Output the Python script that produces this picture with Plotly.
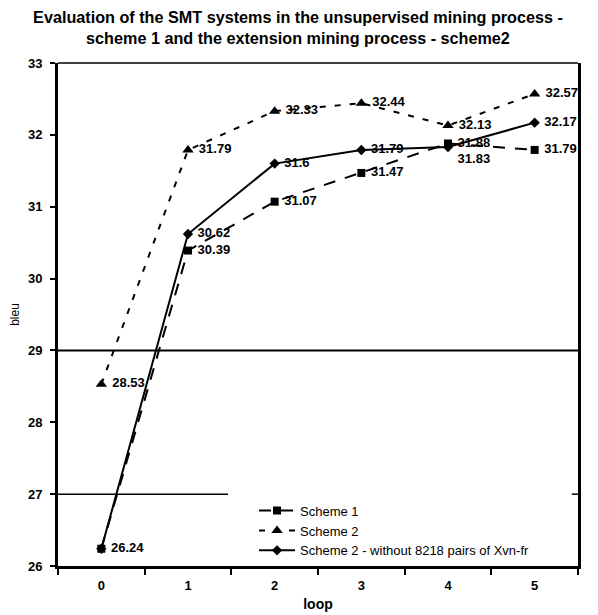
import plotly.graph_objects as go

loops = [0, 1, 2, 3, 4, 5]
scheme1 = [26.24, 30.39, 31.07, 31.47, 31.88, 31.79]
scheme2 = [28.53, 31.79, 32.33, 32.44, 32.13, 32.57]
scheme2_wo = [26.24, 30.62, 31.6, 31.79, 31.83, 32.17]

labels1 = ["26.24", "30.39", "31.07", "31.47", "31.88", "31.79"]
labels2 = ["28.53", "31.79", "32.33", "32.44", "32.13", "32.57"]
labels3 = ["", "30.62", "31.6", "31.79", "31.83", "32.17"]
pos3 = ["middle right"] * 4 + ["bottom right", "middle right"]

FONT = "Liberation Sans, Arial, sans-serif"
LBL = dict(family=FONT, size=13, color="black", weight="bold")

fig = go.Figure()
fig.add_trace(go.Scatter(
    x=loops, y=scheme1, name="Scheme 1", mode="lines+markers+text",
    line=dict(color="black", width=2, dash="12px,10px"),
    marker=dict(symbol="square", size=8, color="black"),
    text=[" " + t for t in labels1], textposition="middle right",
    textfont=LBL,
))
fig.add_trace(go.Scatter(
    x=loops, y=scheme2, name="Scheme 2", mode="lines+markers+text",
    line=dict(color="black", width=2, dash="6px,9px"),
    marker=dict(symbol="triangle-up", size=10, color="black"),
    text=[" " + t for t in labels2], textposition="middle right",
    textfont=LBL,
))
fig.add_trace(go.Scatter(
    x=loops, y=scheme2_wo, name="Scheme 2 - without 8218 pairs of Xvn-fr",
    mode="lines+markers+text",
    line=dict(color="black", width=2),
    marker=dict(symbol="diamond", size=8, color="black"),
    text=[(" " + t) if t else "" for t in labels3], textposition=pos3,
    textfont=LBL,
))

# gridlines at 29 (full) and 27 (partly hidden behind legend area)
fig.add_shape(type="line", xref="paper", yref="y", x0=0, x1=1, y0=29, y1=29,
              line=dict(color="black", width=2), layer="below")
fig.add_shape(type="line", xref="paper", yref="y", x0=0, x1=0.327, y0=27, y1=27,
              line=dict(color="black", width=1.5), layer="below")
fig.add_shape(type="line", xref="paper", yref="y", x0=0.988, x1=1, y0=27, y1=27,
              line=dict(color="black", width=1.5), layer="below")
# top border
fig.add_shape(type="line", xref="paper", yref="paper", x0=0, x1=1, y0=1, y1=1,
              line=dict(color="black", width=1.5))

fig.update_layout(
    width=590, height=607,
    margin=dict(l=50, r=20, t=55, b=49, autoexpand=False),
    paper_bgcolor="white", plot_bgcolor="white",
    font=dict(family=FONT, color="black"),
    title=dict(
        text="Evaluation of the SMT systems in the unsupervised mining process -<br>scheme 1 and the extension mining process - scheme2",
        x=0.4915, xanchor="center", y=0.975, yanchor="top", pad=dict(t=0, b=0),
        font=dict(family=FONT, size=16.2, color="black", weight="bold"),
    ),
    showlegend=True,
    legend=dict(
        x=0.377, y=0.14, xanchor="left", yanchor="top",
        bgcolor="white", borderwidth=0,
        font=dict(family=FONT, size=13, color="black"),
        tracegroupgap=0, itemwidth=36,
    ),
    xaxis=dict(
        range=[-0.5, 5.5], tickmode="array", tickvals=loops,
        ticktext=[str(v) for v in loops], ticks="", showgrid=False,
        showline=True, linecolor="black", linewidth=3, zeroline=False,
        ticklabelstandoff=5, automargin=False,
        tickfont=dict(family=FONT, size=13, weight="bold"),
        minor=dict(tickmode="array", tickvals=[-0.5, 0.5, 1.5, 2.5, 3.5, 4.5, 5.5],
                   ticks="outside", ticklen=6, tickwidth=2, tickcolor="black", showgrid=False),
        title=dict(text="loop", font=dict(family=FONT, size=14, weight="bold"), standoff=8),
    ),
    yaxis=dict(
        range=[26, 33], dtick=1, ticks="outside", ticklen=5, tickwidth=1.5,
        tickcolor="black", showgrid=False, zeroline=False,
        showline=True, linecolor="black", linewidth=3, mirror=True,
        ticklabelstandoff=5, automargin=False,
        tickfont=dict(family=FONT, size=13, weight="bold"),
        title=dict(text="bleu", font=dict(family=FONT, size=12), standoff=10),
    ),
)

fig.write_html("out.html")
